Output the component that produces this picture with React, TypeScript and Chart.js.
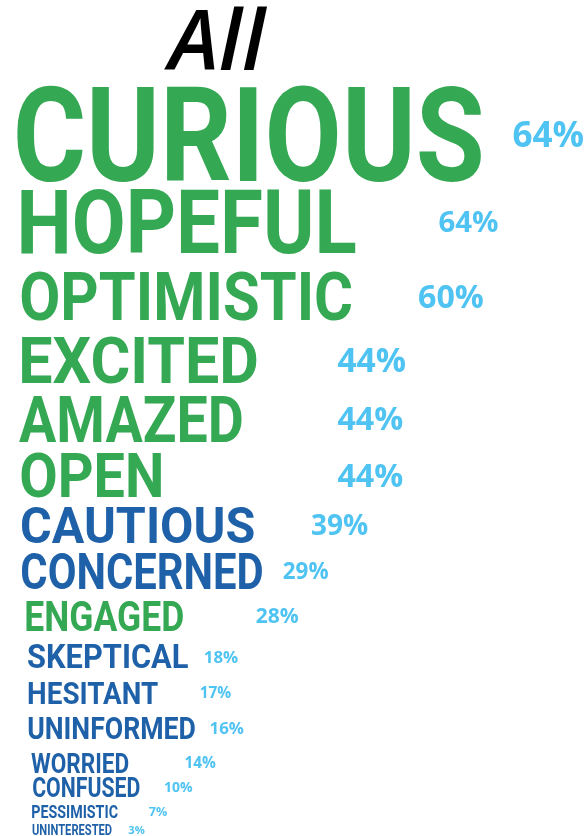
import React, { useEffect, useRef } from "react";
import { Chart, registerables } from "chart.js";

Chart.register(...registerables);

// ---- data ----
const titleText = "All";
const words = [
  "CURIOUS", "HOPEFUL", "OPTIMISTIC", "EXCITED", "AMAZED", "OPEN",
  "CAUTIOUS", "CONCERNED", "ENGAGED", "SKEPTICAL", "HESITANT",
  "UNINFORMED", "WORRIED", "CONFUSED", "PESSIMISTIC", "UNINTERESTED",
];
const percents = [64, 64, 60, 44, 44, 44, 39, 29, 28, 18, 17, 16, 14, 10, 7, 3];
const tone = [
  "pos", "pos", "pos", "pos", "pos", "pos",
  "neg", "neg", "pos", "neg", "neg",
  "neg", "neg", "neg", "neg", "neg",
];

// ---- styles (sizes / layout) ----
const capHeights = [93, 63, 47, 46, 46, 44, 35, 35, 30, 23, 22, 22, 20, 19, 13, 10];
const inkWidths = [464, 335, 331, 235, 223, 140, 232, 240, 157, 160, 130, 167, 98, 107, 86, 80];
const indents = [17, 21, 21, 22, 19, 21, 22, 22, 26, 28, 28, 28, 31, 33, 32, 32];
const lineHeights = [134, 87, 75.5, 63.5, 58.5, 56.5, 50, 46, 44.5, 41, 36, 35, 35, 24.5, 24, 19];
const pctCaps = [25, 21, 23, 24, 23, 23, 20, 16, 15, 12, 11, 12, 11, 10, 9, 8];

const GREEN = "#34A853";
const BLUE = "#1F61A8";
const LIGHT = "#4FC3F2";
const W = 588;
const H = 836;

const rowPos: number[] = [];
lineHeights.reduce((acc, h) => {
  const v = acc + h;
  rowPos.push(v);
  return v;
}, 0);

const wordPlugin = {
  id: "wordCloudText",
  afterDatasetsDraw(chart: any) {
    const ctx = chart.ctx as CanvasRenderingContext2D;
    const meta = chart.getDatasetMeta(0);
    const area = chart.chartArea;
    ctx.save();
    // title
    ctx.fillStyle = "#000";
    ctx.font = 'italic 600 84px "Open Sans"';
    ctx.textAlign = "center";
    ctx.textBaseline = "alphabetic";
    ctx.fillText(titleText, area.left + 217, area.top + 70);

    ctx.textAlign = "left";
    words.forEach((w, i) => {
      const pt = meta.data[i];
      if (!pt) return;
      const cy = pt.y;
      const cap = capHeights[i];
      ctx.font = `bold ${cap / 0.711}px Roboto`;
      const m = ctx.measureText(w);
      const ink = m.actualBoundingBoxLeft + m.actualBoundingBoxRight;
      const sx = inkWidths[i] / ink;
      const x0 = area.left + indents[i];
      ctx.save();
      ctx.translate(x0, cy + cap / 2);
      ctx.scale(sx, 1);
      ctx.fillStyle = tone[i] === "pos" ? GREEN : BLUE;
      ctx.fillText(w, m.actualBoundingBoxLeft, 0);
      ctx.restore();

      const wordEnd = x0 + inkWidths[i];
      const pc = pctCaps[i];
      const px = Math.max(pt.x, wordEnd + 1.3 * pc);
      ctx.save();
      ctx.font = `bold ${pc / 0.714}px "Open Sans"`;
      const label = `${percents[i]}%`;
      const pm = ctx.measureText(label);
      ctx.translate(px, cy + pc / 2);
      ctx.fillStyle = LIGHT;
      ctx.fillText(label, pm.actualBoundingBoxLeft, 0);
      ctx.restore();
    });
    ctx.restore();
  },
};

export default function App() {
  const ref = useRef<HTMLCanvasElement | null>(null);
  useEffect(() => {
    document.body.style.margin = "0";
    const canvas = ref.current;
    if (!canvas) return;
    const chart = new Chart(canvas, {
      type: "scatter",
      data: {
        datasets: [
          {
            label: "Share",
            data: percents.map((v, i) => ({ x: v, y: rowPos[i] })),
            pointRadius: 0,
            pointHoverRadius: 0,
            backgroundColor: "transparent",
            borderColor: "transparent",
          },
        ],
      },
      options: {
        animation: false,
        responsive: false,
        devicePixelRatio: 1,
        events: [],
        layout: { padding: 0 },
        plugins: {
          legend: { display: false },
          title: { display: false },
          tooltip: { enabled: false },
        },
        scales: {
          x: { type: "linear", min: -22.16, max: 93.14, display: false },
          y: { type: "linear", min: 0, max: H, reverse: true, display: false },
        },
      },
      plugins: [wordPlugin],
    });
    return () => chart.destroy();
  }, []);
  return (
    <div style={{ width: W, height: H, background: "#fff" }}>
      <canvas ref={ref} width={W} height={H} style={{ width: W, height: H, display: "block" }} />
    </div>
  );
}
